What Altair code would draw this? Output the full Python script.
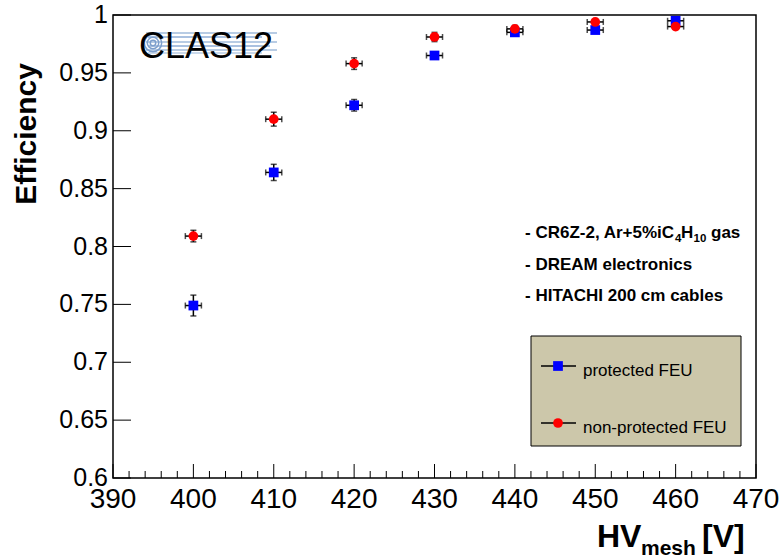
import altair as alt
import pandas as pd

# ---------------- data ----------------
hv = [400, 410, 420, 430, 440, 450, 460]
hv_err = [1, 1, 1, 1, 1, 1, 1]
eff_prot = [0.749, 0.864, 0.922, 0.965, 0.985, 0.987, 0.995]
err_prot = [0.009, 0.007, 0.005, 0.003, 0.003, 0.002, 0.002]
eff_nonprot = [0.809, 0.910, 0.958, 0.981, 0.988, 0.994, 0.990]
err_nonprot = [0.005, 0.006, 0.005, 0.004, 0.003, 0.002, 0.002]
series_names = ["protected FEU", "non-protected FEU"]

x_major = [390, 400, 410, 420, 430, 440, 450, 460, 470]
x_labels = ["390", "400", "410", "420", "430", "440", "450", "460", "470"]
x_minor = [v for v in range(390, 471, 2) if v % 10 != 0]
y_major = [0.6, 0.65, 0.7, 0.75, 0.8, 0.85, 0.9, 0.95, 1.0]
y_labels = ["0.6", "0.65", "0.7", "0.75", "0.8", "0.85", "0.9", "0.95", "1"]

notes = ["- DREAM electronics", "- HITACHI 200 cm cables"]

# ---------------- layout ----------------
W, H = 643, 463
L, T = 113, 15
FONT = "Liberation Sans"

rows = []
for name, eff, err in [(series_names[0], eff_prot, err_prot),
                       (series_names[1], eff_nonprot, err_nonprot)]:
    for x, xe, y, ye in zip(hv, hv_err, eff, err):
        rows.append(dict(series=name, hv=x, xlo=x - xe, xhi=x + xe,
                         eff=y, ylo=y - ye, yhi=y + ye))
df = pd.DataFrame(rows)

xs = alt.Scale(domain=[390, 470], nice=False, zero=False)
ys = alt.Scale(domain=[0.6, 1.0], nice=False, zero=False)
cs = alt.Scale(domain=series_names, range=["#0000ff", "#ff0000"])
ss = alt.Scale(domain=series_names, range=["square", "circle"])

base = alt.Chart(df)
X = lambda f: alt.X(f, scale=xs, axis=None)
Y = lambda f: alt.Y(f, scale=ys, axis=None)

vbar = base.mark_rule(color="black", strokeWidth=1.5).encode(
    x=X("hv:Q"), y=Y("ylo:Q"), y2="yhi:Q")
hbar = base.mark_rule(color="black", strokeWidth=1.5).encode(
    x=X("xlo:Q"), x2="xhi:Q", y=Y("eff:Q"))
cap_l = base.mark_tick(color="black", orient="vertical", size=6, thickness=1.5).encode(
    x=X("xlo:Q"), y=Y("eff:Q"))
cap_r = base.mark_tick(color="black", orient="vertical", size=6, thickness=1.5).encode(
    x=X("xhi:Q"), y=Y("eff:Q"))
cap_b = base.mark_tick(color="black", orient="horizontal", size=6, thickness=1.5).encode(
    x=X("hv:Q"), y=Y("ylo:Q"))
cap_t = base.mark_tick(color="black", orient="horizontal", size=6, thickness=1.5).encode(
    x=X("hv:Q"), y=Y("yhi:Q"))
pts = base.mark_point(filled=True, size=95, opacity=1).encode(
    x=X("hv:Q"), y=Y("eff:Q"),
    color=alt.Color("series:N", scale=cs, legend=None),
    shape=alt.Shape("series:N", scale=ss, legend=None))

# ROOT-style inward ticks and tick labels, placed through the scales
ydf = pd.DataFrame({"v": y_major, "lab": y_labels})
xdf = pd.DataFrame({"v": x_major, "lab": x_labels})
yt = alt.Chart(ydf).mark_rule(color="black", strokeWidth=1).encode(
    y=Y("v:Q"), x=alt.value(0), x2=alt.value(18))
ylab = alt.Chart(ydf).mark_text(align="right", baseline="middle", font=FONT,
                                fontSize=25, color="black").encode(
    y=Y("v:Q"), x=alt.value(-5), text="lab:N")
xt_major = alt.Chart(xdf).mark_rule(color="black", strokeWidth=1).encode(
    x=X("v:Q"), y=alt.value(H), y2=alt.value(H - 14))
xlab = alt.Chart(xdf).mark_text(align="center", baseline="top", font=FONT,
                                fontSize=28, color="black").encode(
    x=X("v:Q"), y=alt.value(H + 8), text="lab:N")
xt_minor = alt.Chart(pd.DataFrame({"v": x_minor})).mark_rule(color="black", strokeWidth=1).encode(
    x=X("v:Q"), y=alt.value(H), y2=alt.value(H - 7))


def txt(s, x, y, size, weight="normal", align="left", baseline="alphabetic", angle=0, color="black"):
    return alt.Chart(pd.DataFrame({"t": [s]})).mark_text(
        align=align, baseline=baseline, fontSize=size, fontWeight=weight,
        font=FONT, angle=angle, color=color).encode(
        text="t:N", x=alt.value(x - L), y=alt.value(y - T))


def hline(x1, x2, y, color, width):
    return alt.Chart(pd.DataFrame({"a": [0]})).mark_rule(color=color, strokeWidth=width).encode(
        x=alt.value(x1 - L), x2=alt.value(x2 - L), y=alt.value(y - T))


def marker(x, y, shape, color, size, filled=True, sw=1):
    return alt.Chart(pd.DataFrame({"a": [0]})).mark_point(
        shape=shape, filled=filled, size=size, color=color, opacity=1, strokeWidth=sw).encode(
        x=alt.value(x - L), y=alt.value(y - T))


# logo
logo = [
    hline(146, 277, 33, "#b8cce4", 2), hline(148, 262, 37, "#8eacd6", 1.5),
    hline(146, 277, 42, "#b8cce4", 2), hline(148, 270, 46, "#8eacd6", 1.5),
    hline(146, 277, 50, "#b8cce4", 2), hline(148, 262, 53, "#b8cce4", 1.5),
    marker(153, 43, "circle", "#7d9fcc", 300, filled=False, sw=1.5),
    marker(153, 43, "circle", "#7d9fcc", 130, filled=False, sw=1.5),
    marker(153, 43, "circle", "#7d9fcc", 30, filled=False, sw=1.5),
    txt("CLAS12", 139, 58, 36),
]

# annotations
ann = [
    txt("- CR6Z-2, Ar+5%iC", 525, 238, 17, "bold"),
    txt("4", 675, 242, 11.5, "bold"),
    txt("H", 681, 238, 17, "bold"),
    txt("10", 693.5, 242, 11.5, "bold"),
    txt("gas", 711, 238, 17, "bold"),
    txt(notes[0], 525, 270, 17, "bold"),
    txt(notes[1], 525, 301, 17, "bold"),
]

# legend
legbox = alt.Chart(pd.DataFrame({"a": [0]})).mark_rect(
    fill="#ccc7aa", stroke="black", strokeWidth=1).encode(
    x=alt.value(531 - L), x2=alt.value(741 - L), y=alt.value(336 - T), y2=alt.value(446 - T))
legend = [
    legbox,
    hline(541, 576, 366, "black", 1.5),
    marker(558, 366, "square", "#0000ff", 95),
    txt(series_names[0], 583, 376, 17),
    hline(541, 576, 423, "black", 1.5),
    marker(558, 423, "circle", "#ff0000", 95),
    txt(series_names[1], 583, 433, 17),
]

# axis titles
titles = [
    txt("Efficiency", 27, 63, 30, "bold", align="right", baseline="middle", angle=270),
    txt("HV", 597, 547, 32, "bold"),
    txt("mesh", 641, 555, 21, "bold"),
    txt("[V]", 702, 547, 32, "bold"),
]

chart = alt.layer(
    vbar, hbar, cap_l, cap_r, cap_b, cap_t, pts, yt, xt_major, xt_minor, ylab, xlab,
    *logo, *ann, *legend, *titles
).properties(
    width=W, height=H, autosize="none",
    padding={"left": L, "top": T, "right": 782 - L - W, "bottom": 558 - T - H},
    background="white"
).configure_view(stroke="black", strokeWidth=1.5)

chart.save("out.html", embed_options={"renderer": "svg", "actions": False})
